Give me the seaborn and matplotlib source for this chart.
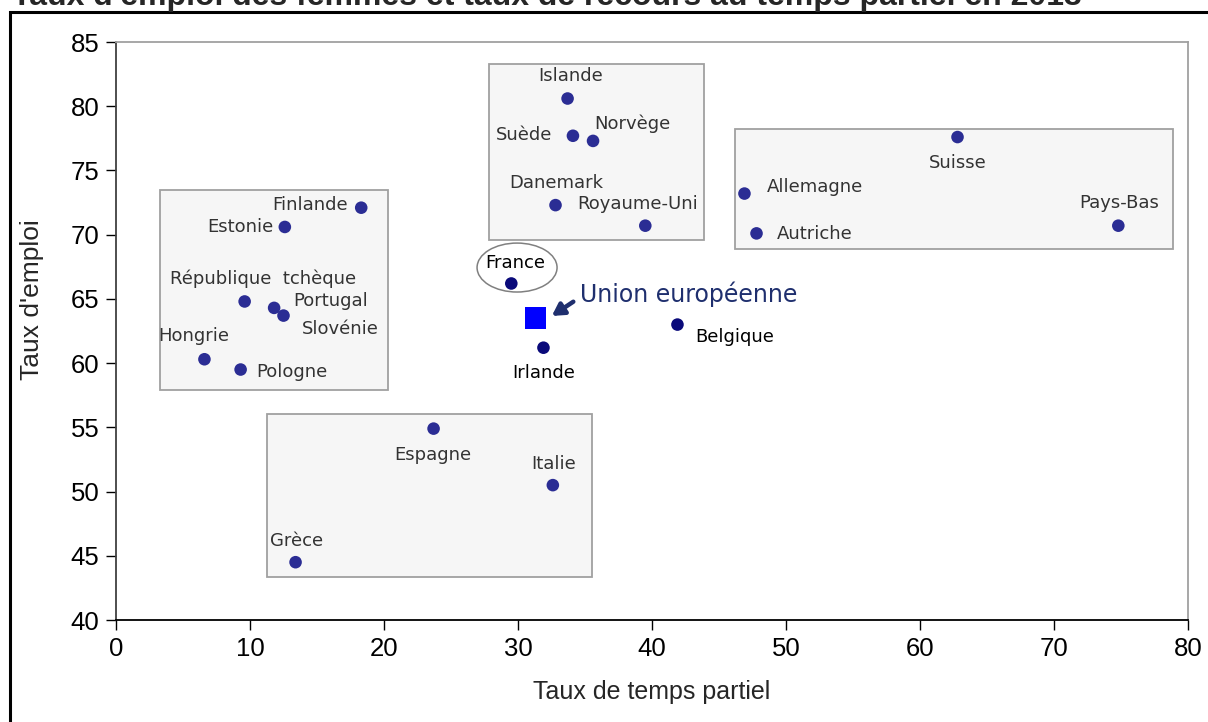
import matplotlib
matplotlib.use("Agg")
import matplotlib.pyplot as plt
from matplotlib.patches import Rectangle, Ellipse
import pandas as pd
import seaborn as sns

# donnees
pays = ["Finlande", "Estonie", "République  tchèque", "Portugal", "Slovénie",
        "Hongrie", "Pologne", "Islande", "Suède", "Norvège", "Danemark",
        "Royaume-Uni", "Suisse", "Allemagne", "Autriche", "Pays-Bas",
        "France", "Irlande", "Belgique", "Espagne", "Italie", "Grèce"]
temps_partiel = [18.3, 12.6, 9.6, 11.8, 12.5, 6.6, 9.3, 33.7, 34.1, 35.6, 32.8,
                 39.5, 62.8, 46.9, 47.8, 74.8, 29.5, 31.9, 41.9, 23.7, 32.6, 13.4]
taux_emploi = [72.1, 70.6, 64.8, 64.3, 63.7, 60.3, 59.5, 80.6, 77.7, 77.3, 72.3,
               70.7, 77.6, 73.2, 70.1, 70.7, 66.2, 61.2, 63.0, 54.9, 50.5, 44.5]
groupe = ["boite"] * 16 + ["hors"] * 3 + ["boite"] * 3

ue_temps_partiel = 31.3
ue_taux_emploi = 63.5

# rectangles gris (x0, x1, y0, y1)
boites = [(3.3, 20.3, 57.9, 73.5),
          (27.8, 43.9, 69.6, 83.3),
          (46.2, 78.9, 68.9, 78.2),
          (11.3, 35.5, 43.35, 56.0)]

# decalage des etiquettes en pixels (dx, dy, alignement)
decal = {
    "Finlande": (-13, 3, "right"), "Estonie": (-11, 0, "right"),
    "République  tchèque": (18, 23, "center"), "Portugal": (19, 7, "left"),
    "Slovénie": (18, -13, "left"), "Hongrie": (-11, 23, "center"),
    "Pologne": (16, -2, "left"), "Islande": (3, 23, "center"),
    "Suède": (-21, 1, "right"), "Norvège": (1, 17, "left"),
    "Danemark": (1, 22, "center"), "Royaume-Uni": (-8, 22, "center"),
    "Suisse": (0, -26, "center"), "Allemagne": (22, 7, "left"),
    "Autriche": (20, -1, "left"), "Pays-Bas": (1, 23, "center"),
    "France": (4, 20, "center"), "Irlande": (0, -25, "center"),
    "Belgique": (18, -12, "left"), "Espagne": (-1, -26, "center"),
    "Italie": (1, 21, "center"), "Grèce": (1, 21, "center"),
}

df = pd.DataFrame({"Pays": pays, "Temps partiel": temps_partiel,
                   "Taux emploi": taux_emploi, "Groupe": groupe})

sns.set_style("white")
plt.rcParams["font.family"] = ["Liberation Sans", "DejaVu Sans"]

fig = plt.figure(figsize=(12.08, 7.22), dpi=100)
ax = fig.add_axes([116 / 1208, 1 - 620 / 722, (1188 - 116) / 1208, (620 - 42) / 722])

for x0, x1, y0, y1 in boites:
    ax.add_patch(Rectangle((x0, y0), x1 - x0, y1 - y0, facecolor="#f6f6f6",
                           edgecolor="#a0a0a0", lw=1.3, zorder=1))

ax.add_patch(Ellipse((29.93, 67.44), 5.97, 3.81, facecolor="none",
                     edgecolor="#808080", lw=1.1, zorder=2))

sns.scatterplot(data=df, x="Temps partiel", y="Taux emploi", hue="Groupe",
                palette={"boite": "#2b2d94", "hors": "#0a0a7a"}, s=82,
                edgecolor="none", legend=False, ax=ax, zorder=3)
sns.scatterplot(x=[ue_temps_partiel], y=[ue_taux_emploi], marker="s", s=240,
                color="#0000ff", edgecolor="none", ax=ax, zorder=3)

for i, nom in enumerate(pays):
    dx, dy, ha = decal[nom]
    couleur = "black" if groupe[i] == "hors" else "#333333"
    ax.annotate(nom, (temps_partiel[i], taux_emploi[i]), xytext=(dx, dy),
                textcoords="offset pixels", ha=ha, va="center", fontsize=13,
                family="DejaVu Sans", color=couleur, zorder=4)

ax.annotate("", xy=(32.35, 63.55), xytext=(34.3, 64.9),
            arrowprops=dict(arrowstyle="-|>,head_length=0.7,head_width=0.4",
                            color="#1f2f6e", lw=3.2), zorder=4)
ax.text(34.63, 64.76, "Union européenne", fontsize=17, family="DejaVu Sans",
        color="#1f2f6e", ha="left", va="baseline", zorder=4)

ax.set_xlim(0, 80)
ax.set_ylim(40, 85)
ax.set_xticks(range(0, 81, 10))
ax.set_yticks(range(40, 86, 5))
ax.tick_params(axis="both", labelsize=18.5, direction="out", length=7, width=1,
               colors="black", left=True, bottom=True, pad=5)
ax.set_xlabel("Taux de temps partiel", fontsize=18, labelpad=14)
ax.set_ylabel("Taux d'emploi", fontsize=19)
ax.yaxis.set_label_coords(-0.067, 0.554)

for cote in ["top", "right"]:
    ax.spines[cote].set_color("#a0a0a0")
ax.spines["left"].set_color("#404040")
ax.spines["bottom"].set_color("black")
for sp in ax.spines.values():
    sp.set_linewidth(1.3)

# cadre noir autour du graphique
fig.patches.append(Rectangle((10 / 1208, -0.1), 1.2, 1.1 - 12 / 722,
                             transform=fig.transFigure, fill=False,
                             edgecolor="black", lw=2.2))
fig.text(12 / 1208, 1 - 5 / 722, "Taux d'emploi des femmes et taux de recours au temps partiel en 2013",
         fontsize=23, fontweight="bold", ha="left", va="baseline")

fig.savefig("out.png", dpi=100)
